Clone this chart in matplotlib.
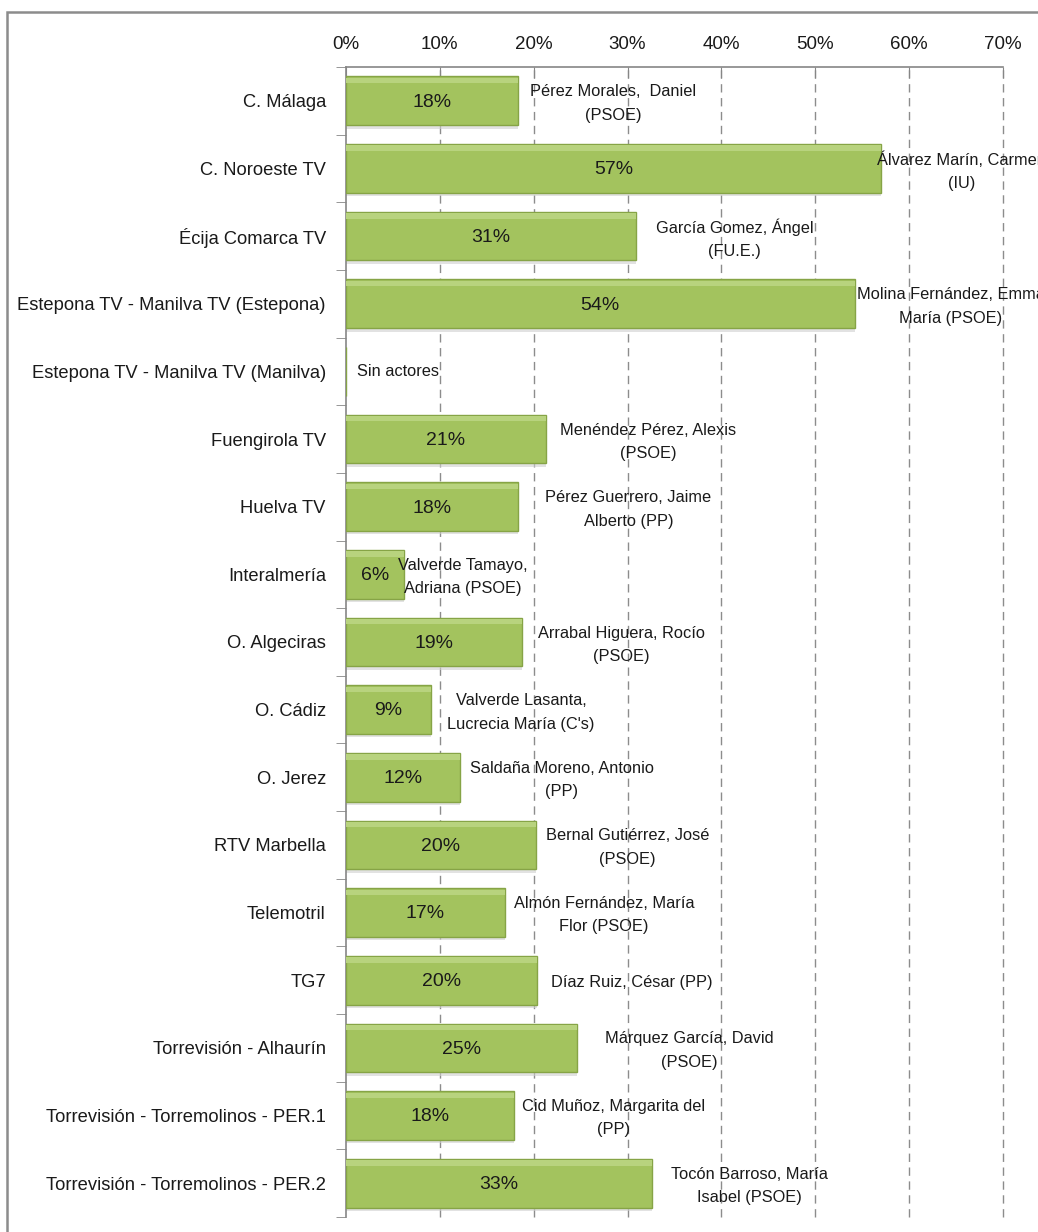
import numpy as np
import matplotlib
matplotlib.use('Agg')
import matplotlib.pyplot as plt
from matplotlib.patches import Rectangle

plt.rcParams['font.family'] = ['Liberation Sans', 'DejaVu Sans']

# data
canales = ['C. Málaga', 'C. Noroeste TV', 'Écija Comarca TV',
           'Estepona TV - Manilva TV (Estepona)', 'Estepona TV - Manilva TV (Manilva)',
           'Fuengirola TV', 'Huelva TV', 'Interalmería', 'O. Algeciras', 'O. Cádiz',
           'O. Jerez', 'RTV Marbella', 'Telemotril', 'TG7', 'Torrevisión - Alhaurín',
           'Torrevisión - Torremolinos - PER.1', 'Torrevisión - Torremolinos - PER.2']
porcentaje = [18.3, 57.0, 30.9, 54.2, 0, 21.3, 18.3, 6.2, 18.7, 9.05,
              12.1, 20.2, 16.9, 20.4, 24.6, 17.9, 32.6]
actores = ['Pérez Morales,  Daniel\n(PSOE)', 'Álvarez Marín, Carmen\n(IU)',
           'García Gomez, Ángel\n(FU.E.)', 'Molina Fernández, Emma\nMaría (PSOE)',
           'Sin actores', 'Menéndez Pérez, Alexis\n(PSOE)', 'Pérez Guerrero, Jaime\nAlberto (PP)',
           'Valverde Tamayo,\nAdriana (PSOE)', 'Arrabal Higuera, Rocío\n(PSOE)',
           'Valverde Lasanta,\nLucrecia María (C\'s)', 'Saldaña Moreno, Antonio\n(PP)',
           'Bernal Gutiérrez, José\n(PSOE)', 'Almón Fernández, María\nFlor (PSOE)',
           'Díaz Ruiz, César (PP)', 'Márquez García, David\n(PSOE)',
           'Cid Muñoz, Margarita del\n(PP)', 'Tocón Barroso, María\nIsabel (PSOE)']
ticks = [0, 10, 20, 30, 40, 50, 60, 70]

# layout tweaks for the name labels (distance of label centre from bar end)
label_gap = [10.2, 8.6, 10.5, 10.2, 0, 10.9, 11.8, 6.2, 10.6, 9.6,
             10.9, 9.8, 10.6, 10.0, 12.0, 10.6, 10.4]

W, H = 1038, 1232
fig = plt.figure(figsize=(W / 100, H / 100), dpi=100)
fig.patches.append(Rectangle((7 / W, -0.1), 1.2, 1 - 12 / H + 0.1, transform=fig.transFigure,
                             fill=False, edgecolor='#8c8c8c', linewidth=1.8))
ax = fig.add_axes([346 / W, 15 / H, 657 / W, 1150 / H])

y = np.arange(len(canales))
grey = '#868686'
txt = '#1a1a1a'

ax.barh(y + 0.05, porcentaje, height=0.72, color='#cfcfcf', alpha=0.6, zorder=2)
ax.barh(y, porcentaje, height=0.72, color='#a3c35e', edgecolor='#86a446', linewidth=1, zorder=3)
ax.barh(y - 0.3, porcentaje, height=0.08, color='#b8d37e', linewidth=0, zorder=4)

for i, v in enumerate(porcentaje):
    if v > 0:
        ax.text(v / 2, i + 0.02, '%d%%' % round(v), ha='center', va='center', fontsize=14,
                color=txt, zorder=5)
        ax.text(v + label_gap[i], i + 0.04, actores[i], ha='center', va='center',
                multialignment='center', fontsize=11.8, color=txt, zorder=5,
                linespacing=1.7)
    else:
        ax.text(1.2, i, actores[i], ha='left', va='center', fontsize=11.8, color=txt)

ax.set_xlim(0, 70)
ax.set_ylim(len(canales) - 0.5, -0.5)
ax.xaxis.tick_top()
ax.set_xticks(ticks)
ax.set_xticklabels(['%d%%' % t for t in ticks], fontsize=13.5, color=txt)
ax.tick_params(axis='x', direction='in', length=8, color=grey, pad=10)
ax.set_yticks(y)
ax.set_yticklabels(canales, fontsize=13.2, color=txt)
ax.set_yticks(np.arange(len(canales) + 1) - 0.5, minor=True)
ax.tick_params(axis='y', which='major', length=0, pad=14.5)
ax.tick_params(axis='y', which='minor', length=7, color=grey, direction='out')
for t in ticks[1:]:
    ax.axvline(t, color='#8c8c8c', linestyle=(0, (6, 4)), linewidth=1, zorder=1, clip_on=False)
for s in ['right', 'bottom']:
    ax.spines[s].set_visible(False)
ax.spines['top'].set_color(grey)
ax.spines['left'].set_color(grey)
ax.spines['top'].set_linewidth(1.2)
ax.spines['left'].set_linewidth(1.2)

fig.savefig('out.png', dpi=100)
